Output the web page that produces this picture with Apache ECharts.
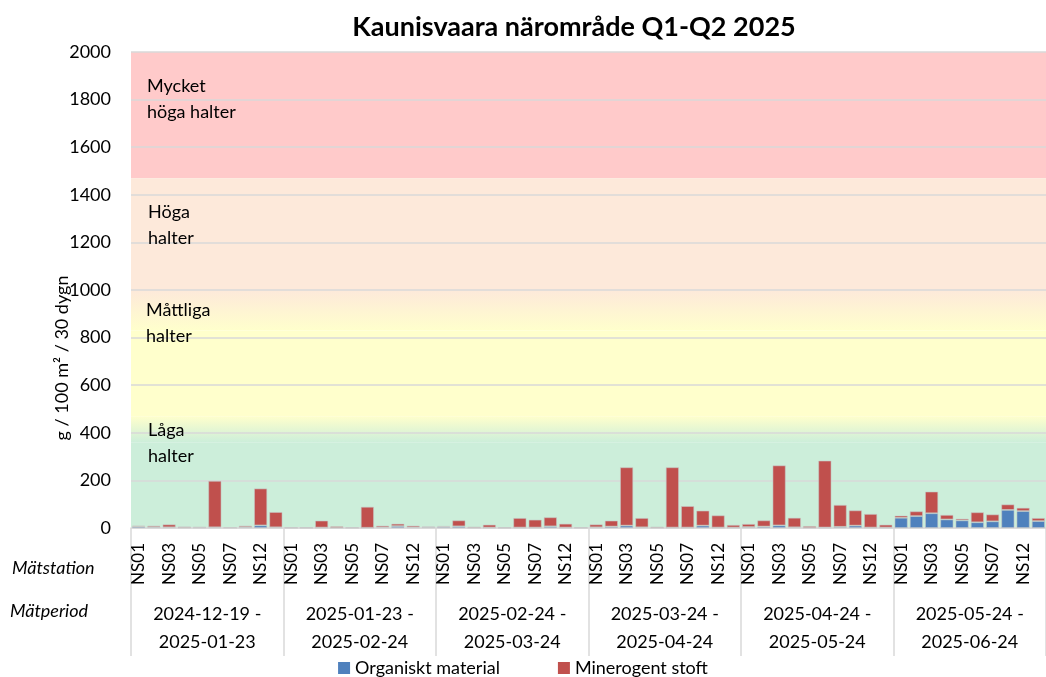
<!DOCTYPE html>
<html>
<head>
<meta charset="utf-8">
<script src="https://cdn.jsdelivr.net/npm/echarts@6/dist/echarts.min.js"></script>
<style>
    html, body { margin: 0; padding: 0; background: #fff; }
    #chart { width: 1046px; height: 677px; }
</style>
</head>
<body>
<div id="chart"></div>
<script>
    // mätstationer och mätperioder
    const stations = ['NS01', 'NS02', 'NS03', 'NS04', 'NS05', 'NS06', 'NS07', 'NS08', 'NS12', 'NS13'];
    const periods = [
        '2024-12-19 -\n2025-01-23',
        '2025-01-23 -\n2025-02-24',
        '2025-02-24 -\n2025-03-24',
        '2025-03-24 -\n2025-04-24',
        '2025-04-24 -\n2025-05-24',
        '2025-05-24 -\n2025-06-24'
    ];

    // organiskt material, en rad per period (g / 100 m2 / 30 dygn)
    const organic = [
        [6, 4, 3, 2, 2, 3, 1, 4, 11, 3],
        [1, 1, 2, 1, 1, 1, 3, 8, 3, 4],
        [5, 7, 1, 2, 1, 2, 2, 7, 2, 1],
        [3, 6, 10, 3, 1, 2, 2, 10, 2, 2],
        [4, 6, 11, 3, 1, 2, 5, 10, 2, 2],
        [43, 50, 62, 36, 32, 24, 28, 76, 71, 29]
    ];
    // minerogent stoft
    const mineral = [
        [4, 6, 12, 4, 2, 195, 2, 6, 155, 64],
        [1, 1, 29, 6, 1, 88, 7, 10, 7, 2],
        [3, 25, 4, 12, 1, 40, 33, 38, 16, 1],
        [12, 25, 245, 39, 4, 253, 90, 63, 51, 11],
        [13, 26, 252, 40, 7, 281, 92, 64, 57, 12],
        [9, 20, 91, 19, 7, 42, 29, 23, 14, 13]
    ];

    // nivåer i bakgrunden
    const levelLabels = ['Mycket\nhöga halter', 'Höga\nhalter', 'Måttliga\nhalter', 'Låga\nhalter'];
    const yTicks = [0, 2000, 200];

    const font = 'Lato, "Open Sans", sans-serif';
    const categories = [];
    periods.forEach(function () { stations.forEach(function (s) { categories.push(s); }); });
    const organicFlat = [].concat.apply([], organic);
    const mineralFlat = [].concat.apply([], mineral);

    function grad(top, bottom) {
        return {
            type: 'linear', x: 0, y: 0, x2: 0, y2: 1,
            colorStops: [{offset: 0, color: top}, {offset: 1, color: bottom}]
        };
    }

    function levelText(x, y, text) {
        return {
            type: 'text', x: x, y: y, z: 20,
            style: {text: text, font: '18px ' + font, lineHeight: 26, fill: '#000'}
        };
    }

    const myChart = echarts.init(document.getElementById('chart'));
    const option = {
        animation: false,
        backgroundColor: '#fff',
        textStyle: {fontFamily: font},
        grid: {left: 131, right: -14, top: 52, bottom: 149},
        legend: {
            bottom: -5,
            left: 'center',
            itemWidth: 12,
            itemHeight: 12,
            itemGap: 58,
            icon: 'rect',
            itemStyle: {borderWidth: 0},
            textStyle: {fontSize: 18, color: '#000', fontFamily: font},
            data: ['Organiskt material', 'Minerogent stoft']
        },
        xAxis: [
            {
                type: 'category',
                data: categories,
                axisLine: {lineStyle: {color: '#d9d9d9', width: 1.5}},
                axisTick: {show: false},
                axisLabel: {
                    interval: 1,
                    rotate: 90,
                    margin: 15,
                    fontSize: 17,
                    color: '#000',
                    fontFamily: font
                }
            },
            {
                type: 'category',
                data: periods,
                position: 'bottom',
                axisLine: {show: false},
                axisTick: {show: true, length: 128, interval: 0, lineStyle: {color: '#d9d9d9', width: 1.5}},
                axisLabel: {
                    interval: 0,
                    margin: 72,
                    fontSize: 18,
                    lineHeight: 28,
                    color: '#000',
                    fontFamily: font
                }
            }
        ],
        yAxis: {
            type: 'value',
            min: yTicks[0],
            max: yTicks[1],
            interval: yTicks[2],
            z: 1,
            axisLine: {show: false},
            axisTick: {show: false},
            axisLabel: {
                margin: 20, fontSize: 18, color: '#000', fontFamily: font,
                formatter: function (v) { return String(v); }
            },
            splitLine: {lineStyle: {color: '#d9d9d9', width: 1.5}}
        },
        series: [
            {
                // bakgrundsfält
                type: 'line',
                z: -1,
                data: [],
                markArea: {
                    silent: true,
                    z: -1,
                    data: [
                        [{yAxis: 1470, itemStyle: {color: '#ffcaca'}}, {yAxis: 2000}],
                        [{yAxis: 1000, itemStyle: {color: '#fde9da'}}, {yAxis: 1470}],
                        [{yAxis: 830, itemStyle: {color: grad('#fde9da', '#ffffcc')}}, {yAxis: 1000}],
                        [{yAxis: 470, itemStyle: {color: '#ffffcc'}}, {yAxis: 830}],
                        [{yAxis: 360, itemStyle: {color: grad('#ffffcc', '#cceeda')}}, {yAxis: 470}],
                        [{yAxis: 0, itemStyle: {color: '#cceeda'}}, {yAxis: 360}]
                    ]
                }
            },
            {
                name: 'Organiskt material',
                type: 'bar',
                stack: 'total',
                z: 3,
                barCategoryGap: '14%',
                itemStyle: {color: '#4f81bd', borderColor: 'rgba(200,200,200,0.7)', borderWidth: 0.8},
                data: organicFlat
            },
            {
                name: 'Minerogent stoft',
                type: 'bar',
                stack: 'total',
                z: 3,
                barCategoryGap: '14%',
                itemStyle: {color: '#c0504d', borderColor: 'rgba(200,200,200,0.7)', borderWidth: 0.8},
                data: mineralFlat
            }
        ],
        graphic: [
            {
                type: 'text', x: 574, y: 14, z: 20,
                style: {text: 'Kaunisvaara närområde Q1-Q2 2025', font: 'bold 27px ' + font, fill: '#000', align: 'center'}
            },
            {
                type: 'text', x: 62, y: 358, rotation: Math.PI / 2, z: 20,
                style: {text: 'g / 100 m² / 30 dygn', font: '18px ' + font, fill: '#000', align: 'center', verticalAlign: 'middle'}
            },
            levelText(147, 73, levelLabels[0]),
            levelText(148, 199, levelLabels[1]),
            levelText(146, 297, levelLabels[2]),
            levelText(148, 417, levelLabels[3]),
            {type: 'text', x: 12, y: 559, z: 20, style: {text: 'Mätstation', font: 'italic 18px ' + font, fill: '#000'}},
            {type: 'text', x: 10, y: 602, z: 20, style: {text: 'Mätperiod', font: 'italic 18px ' + font, fill: '#000'}}
        ]
    };
    myChart.setOption(option);
</script>
</body>
</html>
